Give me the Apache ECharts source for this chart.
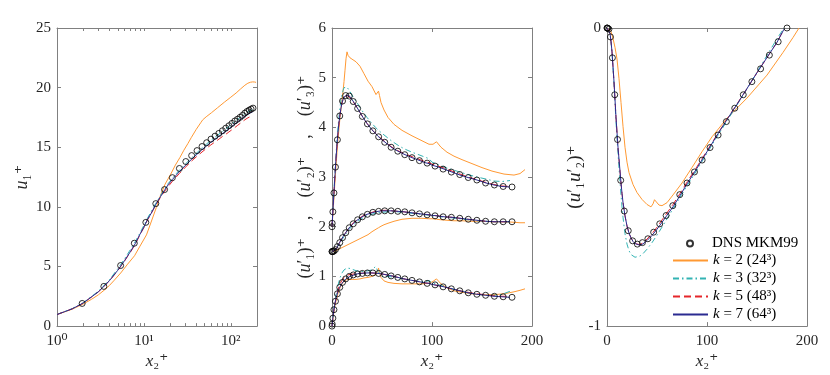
<!DOCTYPE html>
<html>
<head>
<meta charset="utf-8">
<title>channel flow statistics</title>
<script src="https://cdn.jsdelivr.net/npm/echarts@6.0.0/dist/echarts.min.js"></script>
<style>
  html, body { margin: 0; padding: 0; background: #fff; }
  #main { width: 830px; height: 375px; }
</style>
</head>
<body>
<div id="main"></div>
<script>
// legend names
var nameDns = 'DNS MKM99';
var nameK2 = 'k = 2 (24³)';
var nameK3 = 'k = 3 (32³)';
var nameK5 = 'k = 5 (48³)';
var nameK7 = 'k = 7 (64³)';

// DNS sample points (x2+), same in every panel
var dnsX = [0, 0.217, 0.867, 1.948, 3.459, 5.394, 7.751, 10.52, 13.70, 17.28, 21.25, 25.61, 30.34, 35.42, 40.86, 46.63,
  52.72, 59.12, 65.81, 72.77, 80.00, 87.46, 95.15, 103.04, 111.12, 119.36, 127.75, 136.26, 144.88, 153.59, 162.36, 171.17, 180.0];
// panel 1 : u1+
var dnsU = [0, 0.217, 0.86, 1.9, 3.33, 5.08, 6.95, 8.7, 10.27, 11.45, 12.45, 13.22, 13.8, 14.3, 14.72, 15.06,
  15.38, 15.68, 15.93, 16.16, 16.38, 16.6, 16.8, 17.0, 17.2, 17.35, 17.51, 17.67, 17.86, 18.0, 18.11, 18.2, 18.28];
// panel 2 : the three rms curves as plotted (top / middle / bottom)
var dnsTop = [2.0, 2.07, 2.3, 2.68, 3.2, 3.75, 4.23, 4.53, 4.64, 4.63, 4.52, 4.38, 4.22, 4.07, 3.93, 3.81,
  3.70, 3.6, 3.52, 3.45, 3.39, 3.33, 3.28, 3.22, 3.16, 3.10, 3.05, 2.99, 2.94, 2.88, 2.84, 2.81, 2.80];
var dnsMid = [1.5, 1.5, 1.5, 1.51, 1.54, 1.6, 1.68, 1.78, 1.88, 1.98, 2.06, 2.14, 2.2, 2.25, 2.29, 2.31,
  2.32, 2.32, 2.31, 2.3, 2.28, 2.26, 2.24, 2.22, 2.2, 2.19, 2.17, 2.15, 2.13, 2.11, 2.1, 2.1, 2.1];
var dnsBot = [0, 0.04, 0.16, 0.33, 0.5, 0.65, 0.78, 0.88, 0.95, 1.0, 1.03, 1.05, 1.06, 1.07, 1.07, 1.06,
  1.04, 1.01, 0.98, 0.95, 0.92, 0.89, 0.86, 0.83, 0.79, 0.75, 0.71, 0.67, 0.64, 0.62, 0.6, 0.59, 0.58];
// panel 3 : u1'u2'+
var dnsUV = [0, 0, -0.001, -0.004, -0.03, -0.1, -0.224, -0.374, -0.511, -0.614, -0.68, -0.714, -0.725, -0.72, -0.707, -0.685,
  -0.657, -0.629, -0.596, -0.559, -0.52, -0.483, -0.443, -0.401, -0.359, -0.314, -0.269, -0.224, -0.18, -0.137, -0.091, -0.046, 0];

// panel 1 LES
var x1 = [1, 1.5, 2, 3, 4, 5, 6, 7, 8, 9, 10, 11, 12, 13.7, 15.5, 17.3, 19, 21.3, 23.5, 25.6, 28, 30.3, 35.4, 40.9,
  46.6, 52.7, 59, 66, 73, 80, 88, 95, 103, 111, 120, 128, 136, 145, 154, 162, 171, 178];
var k7U = [0.97, 1.45, 1.93, 2.88, 3.8, 4.68, 5.5, 6.25, 6.95, 7.7, 8.3, 8.95, 9.4, 10.2, 10.85, 11.4, 11.85, 12.3, 12.65, 12.95, 13.25, 13.5, 14.0, 14.42,
  14.8, 15.12, 15.42, 15.68, 15.92, 16.14, 16.36, 16.55, 16.75, 16.95, 17.13, 17.3, 17.45, 17.6, 17.73, 17.83, 17.92, 17.96];
var k5U = [0.97, 1.45, 1.93, 2.87, 3.78, 4.65, 5.47, 6.2, 6.9, 7.65, 8.27, 8.9, 9.38, 10.15, 10.8, 11.3, 11.7, 12.15, 12.5, 12.8, 13.1, 13.35, 13.85, 14.25,
  14.6, 14.92, 15.2, 15.45, 15.68, 15.9, 16.1, 16.28, 16.47, 16.65, 16.84, 17.0, 17.15, 17.3, 17.43, 17.53, 17.6, 17.63];
var k3U = [0.98, 1.47, 1.96, 2.93, 3.88, 4.8, 5.65, 6.42, 7.12, 7.8, 8.45, 9.05, 9.55, 10.3, 10.95, 11.5, 11.95, 12.4, 12.78, 13.08, 13.38, 13.62, 14.12, 14.55,
  14.95, 15.28, 15.58, 15.85, 16.1, 16.32, 16.55, 16.75, 16.95, 17.15, 17.35, 17.5, 17.65, 17.8, 17.92, 18.02, 18.1, 18.13];
var xk2p1 = [1, 1.5, 2, 2.5, 3, 3.5, 4, 4.5, 5.4, 6.5, 7.8, 9, 10.7, 12, 13.9, 15.5, 17.5, 20.2, 23, 26, 28.8, 32, 35, 40,
  45, 47.5, 52, 60, 70, 85, 100, 115, 130, 145, 157, 168, 178, 188, 195];
var k2U = [0.97, 1.42, 1.85, 2.25, 2.63, 3.02, 3.4, 3.8, 4.45, 5.2, 5.9, 6.7, 7.65, 8.65, 9.95, 10.95, 11.9, 12.7, 13.5, 14.15, 14.75, 15.3, 15.8, 16.5,
  17.05, 17.3, 17.55, 17.9, 18.3, 18.8, 19.2, 19.55, 19.9, 20.2, 20.37, 20.45, 20.48, 20.47, 20.44];

// panel 2 LES
var x2 = [0, 1, 2, 3, 4, 5, 6, 7, 8, 9, 10, 11, 12, 13, 14, 15, 16, 18, 20, 22, 25, 28, 31, 35, 40, 43.5, 46, 50, 55, 60, 66, 72, 80,
  88, 93, 97, 100, 105, 112, 120, 128, 136, 145, 154, 162, 170, 178];
var k7Top = [2.0, 2.36, 2.7, 3.05, 3.37, 3.65, 3.9, 4.1, 4.26, 4.39, 4.49, 4.56, 4.61, 4.64, 4.65, 4.65, 4.645, 4.62, 4.56, 4.5, 4.4, 4.3, 4.2, 4.08, 3.95, 3.88, 3.82, 3.75, 3.67, 3.59, 3.52, 3.46, 3.39,
  3.33, 3.29, 3.27, 3.24, 3.21, 3.16, 3.1, 3.04, 2.99, 2.94, 2.88, 2.84, 2.81, 2.8];
var k5Top = [2.0, 2.36, 2.7, 3.05, 3.37, 3.65, 3.9, 4.1, 4.26, 4.39, 4.49, 4.56, 4.6, 4.63, 4.64, 4.64, 4.635, 4.6, 4.55, 4.49, 4.4, 4.3, 4.2, 4.08, 3.95, 3.88, 3.83, 3.76, 3.68, 3.6, 3.53, 3.47, 3.41,
  3.35, 3.31, 3.29, 3.26, 3.23, 3.18, 3.12, 3.06, 3.0, 2.95, 2.89, 2.85, 2.82, 2.81];
var k3Top = [2.0, 2.38, 2.74, 3.1, 3.44, 3.74, 4.0, 4.22, 4.4, 4.55, 4.66, 4.74, 4.8, 4.83, 4.83, 4.81, 4.78, 4.72, 4.65, 4.58, 4.5, 4.4, 4.31, 4.2, 4.08, 4.0, 3.95, 3.88, 3.8, 3.72, 3.64, 3.57, 3.5,
  3.44, 3.4, 3.37, 3.3, 3.26, 3.2, 3.15, 3.1, 3.05, 3.0, 2.96, 2.92, 2.91, 2.93];
var k7Mid = [1.5, 1.5, 1.51, 1.53, 1.55, 1.58, 1.62, 1.66, 1.69, 1.73, 1.76, 1.8, 1.83, 1.86, 1.89, 1.92, 1.95, 2.0, 2.04, 2.08, 2.13, 2.17, 2.21, 2.25, 2.28, 2.3, 2.31, 2.32, 2.32, 2.32, 2.31, 2.3, 2.28,
  2.26, 2.25, 2.24, 2.23, 2.22, 2.2, 2.19, 2.17, 2.15, 2.13, 2.11, 2.1, 2.1, 2.1];
var k5Mid = [1.5, 1.5, 1.51, 1.53, 1.55, 1.58, 1.62, 1.66, 1.69, 1.73, 1.76, 1.8, 1.83, 1.86, 1.89, 1.92, 1.95, 2.0, 2.05, 2.09, 2.14, 2.18, 2.22, 2.26, 2.29, 2.31, 2.32, 2.33, 2.33, 2.32, 2.31, 2.3, 2.28,
  2.26, 2.25, 2.24, 2.23, 2.22, 2.2, 2.19, 2.17, 2.15, 2.13, 2.11, 2.1, 2.1, 2.1];
var k3Mid = [1.5, 1.5, 1.51, 1.53, 1.55, 1.58, 1.61, 1.65, 1.68, 1.71, 1.74, 1.77, 1.8, 1.83, 1.86, 1.89, 1.92, 1.97, 2.01, 2.05, 2.1, 2.14, 2.18, 2.22, 2.25, 2.27, 2.28, 2.29, 2.3, 2.3, 2.3, 2.29, 2.27,
  2.25, 2.24, 2.23, 2.22, 2.21, 2.19, 2.18, 2.16, 2.14, 2.12, 2.11, 2.1, 2.1, 2.1];
var k7Bot = [0, 0.18, 0.34, 0.46, 0.55, 0.63, 0.7, 0.75, 0.79, 0.83, 0.86, 0.89, 0.91, 0.93, 0.95, 0.97, 0.98, 1.0, 1.02, 1.03, 1.05, 1.06, 1.065, 1.07, 1.07, 1.065, 1.06, 1.05, 1.03, 1.01, 0.98, 0.95, 0.92,
  0.89, 0.87, 0.86, 0.84, 0.82, 0.79, 0.75, 0.71, 0.67, 0.64, 0.62, 0.6, 0.59, 0.58];
var k5Bot = [0, 0.18, 0.34, 0.46, 0.56, 0.65, 0.73, 0.8, 0.85, 0.89, 0.92, 0.95, 0.98, 1.0, 1.01, 1.02, 1.03, 1.04, 1.05, 1.05, 1.06, 1.06, 1.065, 1.07, 1.07, 1.065, 1.06, 1.05, 1.03, 1.01, 0.98, 0.95, 0.92,
  0.89, 0.87, 0.86, 0.84, 0.82, 0.79, 0.75, 0.71, 0.68, 0.65, 0.63, 0.61, 0.6, 0.6];
var k3Bot = [0, 0.2, 0.36, 0.5, 0.62, 0.73, 0.82, 0.9, 0.97, 1.02, 1.07, 1.1, 1.13, 1.15, 1.16, 1.17, 1.17, 1.16, 1.15, 1.13, 1.11, 1.1, 1.1, 1.11, 1.13, 1.2, 1.1, 1.0, 1.0, 0.99, 0.97, 0.95, 0.92,
  0.9, 0.89, 0.92, 0.87, 0.84, 0.8, 0.75, 0.71, 0.67, 0.64, 0.62, 0.62, 0.64, 0.7];
var xk2p2 = [0, 1, 2, 3, 4, 5, 6, 8, 10, 11, 12, 13, 14, 15, 16, 18, 20, 24, 28, 32, 36, 40, 44, 45.5, 46.5, 47.5, 49, 52, 56, 62,
  70, 80, 90, 97, 101, 104.5, 106, 109, 115, 122, 130, 140, 150, 160, 172, 182, 188, 193];
var k2Top = [2.0, 2.3, 2.6, 2.92, 3.22, 3.5, 3.76, 4.2, 4.55, 4.72, 4.92, 5.15, 5.38, 5.52, 5.45, 5.4, 5.37, 5.32, 5.23, 5.08, 4.93, 4.82, 4.66, 4.64, 4.73, 4.64, 4.5, 4.35, 4.2, 4.06,
  3.94, 3.83, 3.73, 3.66, 3.66, 3.71, 3.69, 3.6, 3.5, 3.42, 3.35, 3.27, 3.19, 3.12, 3.06, 3.04, 3.07, 3.15];
var k2Mid = [1.5, 1.5, 1.51, 1.51, 1.52, 1.53, 1.54, 1.56, 1.58, 1.59, 1.6, 1.61, 1.62, 1.63, 1.64, 1.66, 1.68, 1.72, 1.76, 1.8, 1.84, 1.9, 1.95, 1.97, 1.98, 1.99, 2.01, 2.04, 2.07, 2.11,
  2.15, 2.17, 2.17, 2.16, 2.16, 2.15, 2.15, 2.14, 2.13, 2.12, 2.12, 2.11, 2.11, 2.1, 2.1, 2.09, 2.08, 2.08];
var k2Bot = [0, 0.15, 0.3, 0.41, 0.5, 0.58, 0.66, 0.77, 0.85, 0.88, 0.9, 0.92, 0.93, 0.94, 0.94, 0.94, 0.94, 0.94, 0.95, 0.97, 0.98, 1.0, 1.04, 1.1, 1.17, 1.08, 0.98, 0.91, 0.88, 0.86,
  0.85, 0.85, 0.85, 0.86, 0.9, 0.95, 0.92, 0.85, 0.77, 0.71, 0.68, 0.65, 0.63, 0.63, 0.65, 0.69, 0.72, 0.75];

// panel 3 LES
var x3 = [0, 1, 2, 3, 4, 5, 6, 7, 8, 9, 10, 11, 12, 13, 14, 15, 16, 18, 20, 22, 24, 26, 28, 30, 33, 36, 40, 45, 50, 55, 60, 66, 73, 80,
  90, 100, 110, 120, 130, 140, 150, 160, 170, 177];
var k7UV = [0, 0, -0.004, -0.018, -0.045, -0.08, -0.13, -0.18, -0.24, -0.3, -0.35, -0.4, -0.44, -0.48, -0.52, -0.555, -0.585, -0.63, -0.664, -0.688, -0.704, -0.716, -0.723, -0.728, -0.729, -0.724, -0.713, -0.696, -0.675, -0.652, -0.628, -0.6, -0.562, -0.523,
  -0.47, -0.415, -0.36, -0.307, -0.256, -0.203, -0.15, -0.099, -0.048, -0.004];
var k5UV = [0, 0, -0.004, -0.018, -0.045, -0.08, -0.13, -0.18, -0.24, -0.3, -0.35, -0.4, -0.44, -0.48, -0.52, -0.555, -0.585, -0.63, -0.664, -0.688, -0.704, -0.716, -0.723, -0.727, -0.727, -0.72, -0.708, -0.69, -0.668, -0.644, -0.62, -0.592, -0.555, -0.517,
  -0.465, -0.412, -0.358, -0.306, -0.255, -0.203, -0.15, -0.099, -0.048, -0.004];
var k3UV = [0, 0, -0.004, -0.018, -0.045, -0.082, -0.135, -0.19, -0.25, -0.315, -0.37, -0.42, -0.47, -0.515, -0.56, -0.6, -0.635, -0.69, -0.725, -0.747, -0.76, -0.766, -0.769, -0.769, -0.765, -0.757, -0.742, -0.72, -0.695, -0.668, -0.64, -0.607, -0.568, -0.53,
  -0.476, -0.42, -0.365, -0.312, -0.258, -0.204, -0.148, -0.092, -0.036, 0];
var xk2p3 = [0, 2, 4, 6, 8, 10, 12, 14, 16, 18, 20, 22, 26, 30, 35, 40, 44, 46, 47.5, 49, 52, 55, 60, 66, 75, 85, 95, 105, 120, 140, 160, 176, 186, 192];
var k2UV = [0, -0.002, -0.012, -0.035, -0.065, -0.104, -0.17, -0.25, -0.33, -0.4, -0.45, -0.485, -0.525, -0.552, -0.575, -0.592, -0.6, -0.59, -0.576, -0.582, -0.594, -0.596, -0.586, -0.56,
  -0.52, -0.468, -0.415, -0.365, -0.303, -0.235, -0.158, -0.082, -0.032, 0];

// log axis ticks
var logTicks = [1, 2, 3, 4, 5, 6, 7, 8, 9, 10, 20, 30, 40, 50, 60, 70, 80, 90, 100, 200];
var logLabels = [1, 10, 100];

var F = "'Liberation Serif', 'DejaVu Serif', serif";
var axisColor = '#808080';
var textColor = '#262626';

var colK2 = '#FF9933', colK3 = '#33B3B3', colK5 = '#E5262B', colK7 = '#2B2B91';

function pts(xs, ys) {
  var out = [];
  for (var i = 0; i < xs.length; i++) {
    out.push([xs[i], ys[i]]);
  }
  return out;
}

function lineS(name, color, type, xs, ys, g) {
  return {
    name: name, type: 'line', xAxisIndex: g * 2, yAxisIndex: g * 2,
    data: pts(xs, ys), symbol: 'none', showSymbol: false, silent: true,
    lineStyle: { color: color, width: 1, type: type }, itemStyle: { color: color }, z: 2
  };
}

function dnsS(data, g) {
  return {
    name: nameDns, type: 'scatter', xAxisIndex: g * 2, yAxisIndex: g * 2,
    data: data, symbol: 'circle', symbolSize: 6, silent: true,
    itemStyle: { color: 'rgba(0,0,0,0)', borderColor: '#000', borderWidth: 1 }, z: 3
  };
}

function richOf(size) {
  return {
    i: { fontFamily: F, fontSize: size, fontStyle: 'italic', color: textColor },
    r: { fontFamily: F, fontSize: size, color: textColor }
  };
}
var tickFont = { fontFamily: F, fontSize: 15, color: textColor };

function baseAxis(g, extra, pos) {
  var a = {
    gridIndex: g, position: pos,
    axisLine: { onZero: false, lineStyle: { color: axisColor, width: 1 } },
    axisTick: { inside: true, length: 4, lineStyle: { color: axisColor } },
    axisLabel: { show: false },
    splitLine: { show: false }
  };
  for (var k in extra) a[k] = extra[k];
  return a;
}

function xPair(g, type, opts, name) {
  var lab = Object.assign({ show: true, margin: 7 }, tickFont);
  var bottom = baseAxis(g, opts, 'bottom');
  bottom.axisLabel = Object.assign(lab, opts.axisLabel || {});
  bottom.name = name;
  bottom.nameLocation = 'middle';
  bottom.nameGap = 20;
  bottom.nameTextStyle = { fontFamily: F, fontSize: 17, color: textColor, rich: richOf(17), verticalAlign: 'top' };
  var top = baseAxis(g, opts, 'top');
  top.axisLabel = { show: false };
  bottom.type = type; top.type = type;
  if (opts.axisTick) {
    bottom.axisTick = Object.assign({}, bottom.axisTick, opts.axisTick);
    top.axisTick = Object.assign({}, top.axisTick, opts.axisTick);
  } else {
    bottom.axisTick = { inside: true, length: 4, lineStyle: { color: axisColor } };
    top.axisTick = { inside: true, length: 4, lineStyle: { color: axisColor } };
  }
  return [bottom, top];
}

function yPair(g, opts, name, gap, size) {
  var left = baseAxis(g, opts, 'left');
  left.type = 'value';
  left.axisLabel = Object.assign({ show: true, margin: 6 }, tickFont);
  left.name = name;
  left.nameLocation = 'middle';
  left.nameRotate = 90;
  left.nameGap = gap;
  left.nameTextStyle = { fontFamily: F, fontSize: size, color: textColor, rich: richOf(size) };
  var right = baseAxis(g, opts, 'right');
  right.type = 'value';
  return [left, right];
}

var sup = { 1: '10⁰', 10: '10¹', 100: '10²' };

var xAxes = [].concat(
  xPair(0, 'log', {
    min: 1, max: 200, logBase: 10,
    axisTick: { inside: true, length: 3, customValues: logTicks, lineStyle: { color: axisColor } },
    axisLabel: { customValues: logLabels, formatter: function (v) { return sup[Math.round(v)] || ''; } }
  }, '{i|x}{r|₂⁺}'),
  xPair(1, 'value', { min: 0, max: 200, interval: 100 }, '{i|x}{r|₂⁺}'),
  xPair(2, 'value', { min: 0, max: 200, interval: 100 }, '{i|x}{r|₂⁺}')
);

var yAxes = [].concat(
  yPair(0, { min: 0, max: 25, interval: 5 }, '{i|u}{r|₁⁺}', 26, 18),
  yPair(1, { min: 0, max: 6, interval: 1 }, '{r|(}{i|u}{r|′₁)⁺    ,    (}{i|u}{r|′₂)⁺    ,    (}{i|u}{r|′₃)⁺}', 17, 18),
  yPair(2, { min: -1, max: 0, interval: 1 }, '{r|(}{i|u}{r|′₁}{i|u}{r|′₂)⁺}', 19, 19)
);

var series = [
  lineS(nameK2, colK2, 'solid', xk2p1, k2U, 0),
  lineS(nameK3, colK3, [6, 3, 1.5, 3], x1, k3U, 0),
  lineS(nameK5, colK5, [7, 4], x1, k5U, 0),
  lineS(nameK7, colK7, 'solid', x1, k7U, 0),
  dnsS(pts(dnsX, dnsU).slice(3), 0),

  lineS(nameK2, colK2, 'solid', xk2p2, k2Top, 1),
  lineS(nameK2, colK2, 'solid', xk2p2, k2Mid, 1),
  lineS(nameK2, colK2, 'solid', xk2p2, k2Bot, 1),
  lineS(nameK3, colK3, [6, 3, 1.5, 3], x2, k3Top, 1),
  lineS(nameK3, colK3, [6, 3, 1.5, 3], x2, k3Mid, 1),
  lineS(nameK3, colK3, [6, 3, 1.5, 3], x2, k3Bot, 1),
  lineS(nameK5, colK5, [7, 4], x2, k5Top, 1),
  lineS(nameK5, colK5, [7, 4], x2, k5Mid, 1),
  lineS(nameK5, colK5, [7, 4], x2, k5Bot, 1),
  lineS(nameK7, colK7, 'solid', x2, k7Top, 1),
  lineS(nameK7, colK7, 'solid', x2, k7Mid, 1),
  lineS(nameK7, colK7, 'solid', x2, k7Bot, 1),
  dnsS(pts(dnsX, dnsTop), 1),
  dnsS(pts(dnsX, dnsMid), 1),
  dnsS(pts(dnsX, dnsBot), 1),

  lineS(nameK2, colK2, 'solid', xk2p3, k2UV, 2),
  lineS(nameK3, colK3, [6, 3, 1.5, 3], x3, k3UV, 2),
  lineS(nameK5, colK5, [7, 4], x3, k5UV, 2),
  lineS(nameK7, colK7, 'solid', x3, k7UV, 2),
  dnsS(pts(dnsX, dnsUV), 2)
];

var legendText = {
  fontFamily: F, fontSize: 15, color: '#000',
  rich: {
    i: { fontFamily: F, fontSize: 15, fontStyle: 'italic', color: '#000' },
    r: { fontFamily: F, fontSize: 15, color: '#000' }
  }
};
function legendFmt(name) {
  if (name.charAt(0) === 'k') return '{i|k}{r|' + name.slice(1) + '}';
  return '{r|' + name + '}';
}

var myChart = echarts.init(document.getElementById('main'), null, { renderer: 'canvas' });
var option = {
  backgroundColor: '#fff',
  animation: false,
  grid: [
    { left: 57, top: 28, width: 200, height: 305 },
    { left: 332, top: 28, width: 200, height: 305 },
    { left: 607, top: 28, width: 200, height: 305 }
  ],
  xAxis: xAxes,
  yAxis: yAxes,
  legend: [
    {
      data: [nameDns], left: 686, top: 236, orient: 'vertical', padding: 0,
      itemWidth: 6, itemHeight: 6, icon: 'circle', selectedMode: false, itemGap: 0,
      textStyle: Object.assign({}, legendText, { padding: [0, 0, 0, 14] }), formatter: legendFmt
    },
    {
      data: [nameK2, nameK3, nameK5, nameK7], left: 672, top: 253, orient: 'vertical', padding: 0,
      itemWidth: 35, itemHeight: 14, itemGap: 3, selectedMode: false,
      itemStyle: { opacity: 0 },
      textStyle: legendText, formatter: legendFmt
    }
  ],
  series: series
};
myChart.setOption(option);
</script>
</body>
</html>
